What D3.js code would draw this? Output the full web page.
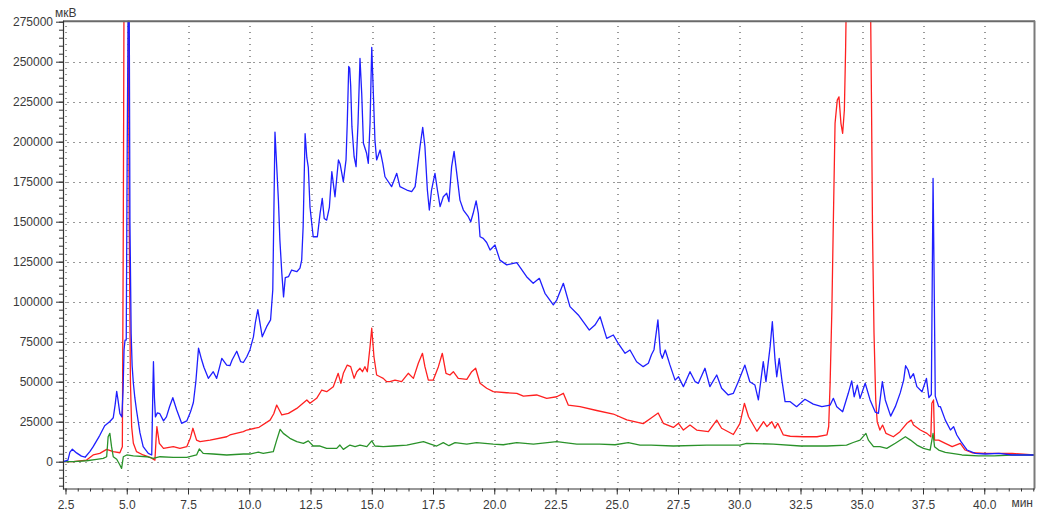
<!DOCTYPE html>
<html><head><meta charset="utf-8">
<script src="https://cdn.jsdelivr.net/npm/d3@7"></script>
<style>
html,body{margin:0;padding:0;background:#fff;}
text{font-family:"Liberation Sans",Arial,sans-serif;font-size:12px;fill:#3a3a3a;}
</style></head>
<body><svg id="c" width="1050" height="521"></svg>
<script>
const xTicks = [2.5,5,7.5,10,12.5,15,17.5,20,22.5,25,27.5,30,32.5,35,37.5,40];
const yTicks = [0,25000,50000,75000,100000,125000,150000,175000,200000,225000,250000,275000];
const xUnit = "мин";
const yUnit = "мкВ";

const blue = [[2.40,0],[2.60,1000],[2.68,6000],[2.78,7800],[2.95,5500],[3.15,3500],[3.30,2800],[3.50,6500],[3.63,9400],[3.90,16500],[4.10,22500],[4.30,25000],[4.45,27500],[4.53,36000],[4.59,44000],[4.64,39000],[4.72,30000],[4.80,28000],[4.85,45000],[4.89,70000],[4.93,76000],[4.98,76000],[5.02,200000],[5.06,290000],[5.10,290000],[5.13,150000],[5.18,80000],[5.22,60000],[5.27,49000],[5.33,40000],[5.40,32000],[5.54,18000],[5.67,9400],[5.88,5200],[6.02,4200],[6.06,40000],[6.09,62500],[6.13,40000],[6.17,28000],[6.25,30500],[6.35,30000],[6.50,25500],[6.62,28000],[6.75,34500],[6.88,40000],[7.04,32300],[7.24,24000],[7.45,25500],[7.60,31000],[7.72,37000],[7.82,50000],[7.93,71000],[8.05,64000],[8.15,59000],[8.33,52100],[8.53,56250],[8.67,52100],[8.88,64600],[9.08,60400],[9.21,60000],[9.30,63600],[9.49,69000],[9.65,62500],[9.76,62000],[9.90,65600],[10.03,70000],[10.17,78000],[10.25,87000],[10.35,95000],[10.44,86500],[10.53,78100],[10.71,84400],[10.87,88600],[10.96,107300],[11.00,150000],[11.05,206000],[11.12,185000],[11.19,163500],[11.25,138500],[11.33,117700],[11.40,103000],[11.47,115000],[11.60,115600],[11.73,119800],[11.94,118750],[12.07,121000],[12.14,126000],[12.20,147000],[12.28,205000],[12.35,190000],[12.41,184000],[12.48,159000],[12.61,140600],[12.78,140600],[12.89,155000],[12.98,164600],[13.06,152000],[13.16,151000],[13.27,159000],[13.37,181250],[13.50,165600],[13.64,188600],[13.71,186000],[13.84,175000],[13.95,188600],[14.00,211500],[14.06,247000],[14.10,246000],[14.14,235000],[14.19,209400],[14.28,190600],[14.36,184400],[14.44,211500],[14.52,252000],[14.59,230250],[14.66,199000],[14.79,192750],[14.86,186500],[14.93,211500],[15.00,259000],[15.06,232300],[15.13,201000],[15.20,188600],[15.34,194800],[15.45,186500],[15.54,178100],[15.81,171900],[16.02,180250],[16.15,171900],[16.43,169800],[16.63,168750],[16.77,171900],[16.97,196900],[17.08,209000],[17.17,196900],[17.27,169800],[17.35,157300],[17.44,169800],[17.58,180250],[17.68,169800],[17.79,159400],[17.92,165600],[18.06,167750],[18.15,162500],[18.26,184400],[18.36,194000],[18.47,180250],[18.60,163500],[18.74,157300],[18.94,153100],[19.04,150000],[19.14,155250],[19.26,163000],[19.35,155250],[19.42,140600],[19.55,139600],[19.69,137000],[19.83,132300],[20.03,135400],[20.23,126000],[20.51,123000],[20.78,124000],[20.92,124400],[21.32,115600],[21.59,111500],[21.84,114600],[22.07,105250],[22.41,98000],[22.55,101000],[22.82,111500],[23.09,96900],[23.43,91700],[23.63,87500],[23.88,82300],[24.11,85400],[24.32,90600],[24.59,77100],[24.86,79200],[25.06,74000],[25.34,67750],[25.54,69800],[25.81,62500],[26.08,59400],[26.29,61500],[26.42,67000],[26.52,70000],[26.68,88600],[26.78,68000],[26.86,64600],[26.98,69800],[27.17,60500],[27.38,51000],[27.52,53100],[27.72,46900],[27.99,56250],[28.20,50000],[28.33,49000],[28.60,58400],[28.80,46900],[29.08,54200],[29.28,45900],[29.55,41700],[29.76,42750],[29.96,50000],[30.23,60400],[30.43,50000],[30.64,47900],[30.78,38600],[30.98,62500],[31.09,50000],[31.26,71900],[31.35,87500],[31.46,63600],[31.53,53100],[31.63,64600],[31.74,51000],[31.87,37500],[32.08,37500],[32.34,34400],[32.68,39000],[33.02,36000],[33.37,34400],[33.71,35400],[33.84,39600],[33.98,34400],[34.22,31250],[34.45,42750],[34.59,50500],[34.69,40600],[34.82,47900],[34.93,39600],[35.14,49000],[35.34,38600],[35.55,31000],[35.68,30250],[35.84,50000],[35.96,38600],[36.18,28500],[36.37,34400],[36.57,43000],[36.71,51000],[36.79,60000],[36.89,57300],[36.98,52100],[37.11,55000],[37.25,46900],[37.46,43750],[37.64,52100],[37.74,40000],[37.84,42000],[37.88,120000],[37.91,177000],[37.95,120000],[38.00,41000],[38.14,34400],[38.21,34400],[38.41,26000],[38.62,19800],[38.75,21900],[38.88,16700],[39.05,12500],[39.30,7300],[39.63,5200],[40.04,4800],[40.60,5200],[41.14,4200],[42.03,4200]];

const red = [[2.40,0],[2.82,0],[3.36,1000],[3.63,4200],[3.90,5200],[4.18,7700],[4.45,6250],[4.72,5600],[4.82,9400],[4.86,150000],[4.89,300000],[5.06,300000],[5.10,150000],[5.15,50000],[5.20,21900],[5.27,11500],[5.40,6250],[5.67,4200],[5.95,2750],[6.15,1000],[6.20,15000],[6.23,21900],[6.33,11500],[6.50,8300],[6.90,9400],[7.17,8300],[7.45,9400],[7.60,15000],[7.70,20900],[7.85,13500],[7.99,12500],[8.40,13500],[9.08,15600],[9.21,16700],[9.76,18750],[9.90,19800],[10.40,21500],[10.85,26000],[11.00,30000],[11.12,35400],[11.33,29200],[11.60,30200],[11.94,33300],[12.35,38600],[12.48,36500],[12.75,39600],[12.96,44800],[13.16,43750],[13.43,46900],[13.63,55250],[13.74,49000],[13.84,55250],[14.00,60400],[14.14,59400],[14.28,52100],[14.39,56250],[14.52,58400],[14.62,56250],[14.72,59400],[14.82,56250],[14.93,71900],[15.00,83400],[15.09,65600],[15.20,54200],[15.34,53100],[15.47,52100],[15.61,50000],[15.74,50000],[15.95,51000],[16.22,50000],[16.49,55250],[16.70,52100],[16.90,61500],[17.07,67750],[17.17,59400],[17.31,51000],[17.51,51000],[17.72,59400],[17.88,67750],[18.03,55250],[18.19,54200],[18.33,56250],[18.53,52100],[18.88,51500],[19.08,56250],[19.24,58400],[19.42,49000],[19.69,45900],[19.96,43750],[20.51,43100],[20.92,42750],[21.19,41000],[21.73,41700],[22.14,39600],[22.55,40600],[22.82,42750],[23.02,35400],[23.50,34400],[24.18,32000],[24.86,29800],[25.41,26200],[26.08,23800],[26.42,27500],[26.69,30400],[26.90,24000],[27.31,21400],[27.52,24000],[27.72,19800],[27.99,22900],[28.26,19800],[28.74,18750],[29.08,26000],[29.28,20900],[29.76,17000],[30.03,24000],[30.21,36500],[30.38,28100],[30.72,19000],[30.99,25000],[31.13,21900],[31.33,25000],[31.46,21000],[31.57,24000],[31.80,16700],[32.08,15900],[32.62,15600],[33.17,15600],[33.58,16700],[33.65,22000],[33.71,50000],[33.78,95000],[33.84,150000],[33.91,211500],[34.00,226000],[34.07,228000],[34.15,211500],[34.22,205250],[34.29,219800],[34.34,257300],[34.38,300000],[35.35,300000],[35.40,219800],[35.44,142700],[35.50,80250],[35.57,38600],[35.63,25000],[35.74,19800],[35.85,22900],[35.99,17700],[36.29,15600],[36.56,18750],[36.84,24000],[37.02,26000],[37.11,22900],[37.39,19800],[37.66,17700],[37.82,15600],[37.86,36500],[37.93,38600],[37.97,13500],[38.14,13500],[38.41,11500],[38.69,9400],[39.02,11500],[39.22,7300],[39.50,5600],[40.04,5200],[41.14,5200],[42.03,4200]];

const green = [[2.40,0],[2.82,0],[3.36,600],[3.77,1500],[4.04,2100],[4.18,3100],[4.24,15600],[4.31,17700],[4.38,9400],[4.45,3100],[4.59,1500],[4.72,-2100],[4.79,-4200],[4.86,3100],[5.00,4200],[5.27,3600],[5.81,3100],[6.08,2100],[6.36,3100],[6.90,2750],[7.45,2750],[7.85,4200],[7.96,8000],[8.12,5200],[8.53,4800],[9.08,4200],[9.76,4800],[10.03,4800],[10.37,6000],[10.57,5200],[10.98,6250],[11.12,13500],[11.26,20250],[11.39,17700],[11.66,14600],[11.94,12500],[12.21,11500],[12.41,13000],[12.61,9800],[12.89,9800],[13.16,8300],[13.57,8300],[13.70,10400],[13.84,7700],[14.11,10400],[14.32,9400],[14.52,10400],[14.80,9400],[15.00,13000],[15.13,9800],[15.47,9400],[15.88,9800],[16.43,10400],[17.11,12500],[17.40,11000],[17.65,9800],[17.92,11900],[18.15,10000],[18.40,11900],[18.88,11000],[19.28,11900],[19.96,11000],[20.37,10600],[20.92,11900],[21.60,11000],[22.55,12500],[23.37,11000],[24.30,11000],[24.93,10600],[25.47,11900],[25.95,10400],[26.40,10400],[27.31,9800],[28.67,10400],[30.03,10400],[30.30,11500],[31.39,11000],[32.50,9800],[33.58,9800],[34.38,10400],[34.65,12000],[34.93,13500],[35.17,17700],[35.27,13500],[35.48,9400],[35.74,9400],[36.02,8300],[36.37,11500],[36.78,15600],[36.99,13500],[37.25,10400],[37.52,8300],[37.79,7300],[37.91,17700],[37.97,9400],[38.14,7300],[38.41,5800],[39.09,4200],[39.76,3600],[40.40,3600],[41.14,4200],[42.03,4200]];

const L = 63, R = 1034, T = 21.7, B = 488.5;
const x = d3.scaleLinear().domain([2.398, 42.03]).range([L, R]);
const y = d3.scaleLinear().domain([-16750, 275000]).range([B, T]);
const svg = d3.select("#c");

// dotted grid built from small squares placed along each gridline position
const dots = [];
yTicks.filter(v => v < 275000).forEach(v => {
  const gy = Math.round(y(v));
  for (let gx = L + 4; gx < R - 1; gx += 6) dots.push([gx, gy]);
});
xTicks.forEach(t => {
  const gx = Math.round(x(t));
  for (let gy = Math.ceil(T) + 4; gy < B - 1; gy += 6) dots.push([gx, gy]);
});
svg.append("g").attr("class", "griddots").selectAll("rect").data(dots).join("rect")
  .attr("x", d => d[0]).attr("y", d => d[1]).attr("width", 2).attr("height", 1)
  .style("fill", "#999999");

// series
svg.append("defs").append("clipPath").attr("id", "plotclip").append("rect")
  .attr("x", L).attr("y", T - 1).attr("width", R - L).attr("height", B - T + 1);
const lineGen = d3.line().x(d => x(d[0])).y(d => y(d[1]));
const plot = svg.append("g").attr("clip-path", "url(#plotclip)");
const addSeries = (data, color) => plot.append("path").datum(data).attr("d", lineGen)
  .style("fill", "none").style("stroke", color).style("stroke-width", "1.3px").style("stroke-linejoin", "round");
addSeries(red, "#ff2020");
addSeries(green, "#2a922a");
addSeries(blue, "#1f1fff");

// frame
svg.append("line").attr("x1", L).attr("x2", R + 1).attr("y1", T - 0.5).attr("y2", T - 0.5).style("stroke", "#6a6a6a").style("stroke-width", "2px");
svg.append("line").attr("x1", R + 0.5).attr("x2", R + 0.5).attr("y1", T - 1).attr("y2", B).style("stroke", "#7a7a7a").style("stroke-width", "2px");

// y axis
const yMinor = d3.range(-15000, 275001, 5000);
const ya = svg.append("g").attr("transform", `translate(${L},0)`);
ya.call(d3.axisLeft(y).tickValues(yMinor).tickSize(4).tickFormat(""));
ya.select(".domain").remove();
const yb = svg.append("g").attr("transform", `translate(${L},0)`);
yb.call(d3.axisLeft(y).tickValues(yTicks).tickSize(7).tickPadding(3).tickFormat(d3.format("d")));
yb.select(".domain").remove();
yb.selectAll("text").style("font-family", "Liberation Sans, Arial, sans-serif").style("font-size", "12px").style("fill", "#3a3a3a");
svg.append("line").attr("x1", L + 0.5).attr("x2", L + 0.5).attr("y1", T - 1).attr("y2", B + 1).style("stroke", "#333").style("stroke-width", "1.2px");

// x axis
const xMinor = d3.range(2.5, 42.01, 0.5);
const xa = svg.append("g").attr("transform", `translate(0,${B})`);
xa.call(d3.axisBottom(x).tickValues(xMinor).tickSize(3).tickFormat(""));
xa.select(".domain").remove();
const xb = svg.append("g").attr("transform", `translate(0,${B})`);
xb.call(d3.axisBottom(x).tickValues(xTicks).tickSize(6).tickPadding(6).tickFormat(d3.format(".1f")));
xb.select(".domain").remove();
xb.selectAll("text").style("font-family", "Liberation Sans, Arial, sans-serif").style("font-size", "12px").style("fill", "#3a3a3a");
[xa, xb, ya, yb].forEach(g => g.selectAll(".tick line").style("stroke", "#333"));
svg.append("line").attr("x1", L).attr("x2", R + 1).attr("y1", B + 0.5).attr("y2", B + 0.5).style("stroke", "#333").style("stroke-width", "1.2px");

// units
svg.append("text").attr("x", 55).attr("y", 17).text(yUnit);
svg.append("text").attr("x", 1033).attr("y", 507).attr("text-anchor", "end").text(xUnit);
</script></body></html>
